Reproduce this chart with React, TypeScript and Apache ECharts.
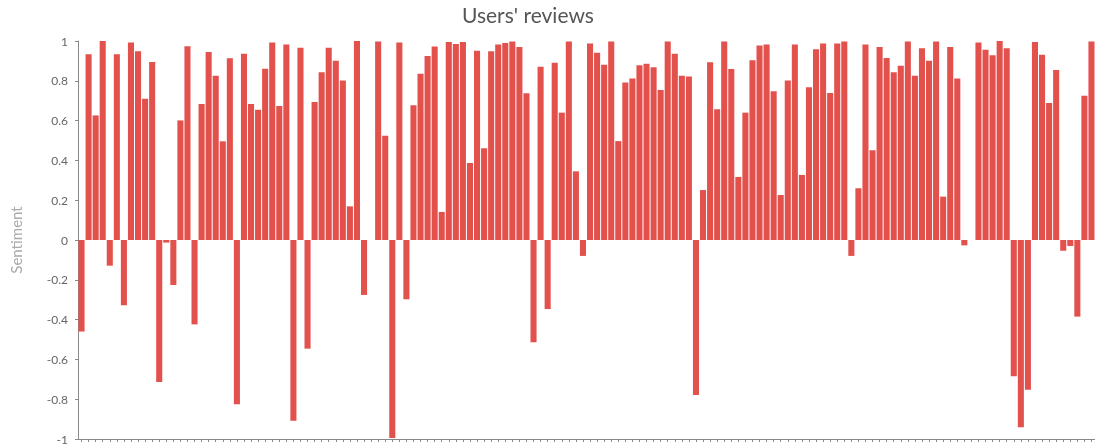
import React, { useEffect, useRef } from "react";
import * as echarts from "echarts";

const title = "Users' reviews";
const yAxisName = "Sentiment";
const yTicks = { min: -1, max: 1, interval: 0.2 };

// Sentiment score of each review (null = no score)
const sentiment: (number | null)[] = [
  -0.46, 0.933, 0.626, 1.0, -0.129, 0.933, -0.328, 0.992, 0.948, 0.71,
  0.894, -0.714, -0.013, -0.226, 0.601, 0.973, -0.424, 0.683, 0.945, 0.826,
  0.496, 0.913, -0.826, 0.936, 0.683, 0.655, 0.861, 0.993, 0.673, 0.983,
  -0.908, 0.966, -0.546, 0.693, 0.843, 0.966, 0.901, 0.801, 0.169, 1.0,
  -0.276, null, 0.998, 0.524, -0.995, 0.992, -0.298, 0.677, 0.836, 0.925,
  0.972, 0.141, 0.995, 0.985, 0.995, 0.387, 0.951, 0.461, 0.948, 0.983,
  0.99, 0.997, 0.97, 0.737, -0.514, 0.871, -0.347, 0.891, 0.64, 0.997,
  0.345, -0.08, 0.988, 0.941, 0.881, 0.997, 0.497, 0.791, 0.812, 0.878,
  0.886, 0.868, 0.754, 0.998, 0.936, 0.826, 0.822, -0.779, 0.251, 0.893,
  0.657, 0.997, 0.859, 0.317, 0.64, 0.903, 0.978, 0.982, 0.747, 0.226,
  0.802, 0.983, 0.327, 0.767, 0.958, 0.988, 0.739, 0.988, 0.997, -0.08,
  0.26, 0.982, 0.451, 0.97, 0.915, 0.843, 0.876, 0.998, 0.826, 0.963,
  0.901, 0.998, 0.218, 0.97, 0.812, -0.027, null, 0.993, 0.956, 0.928,
  1.0, 0.963, -0.685, -0.941, -0.752, 0.995, 0.931, 0.688, 0.854, -0.054,
  -0.03, -0.385, 0.725, 0.998,
];

const reviews: string[] = sentiment.map((_, i) => `Review ${i + 1}`);

export default function App() {
  const ref = useRef<HTMLDivElement>(null);
  useEffect(() => {
    if (!ref.current) return;
    const chart = echarts.init(ref.current, undefined, { renderer: "svg" });
    chart.setOption({
      animation: false,
      title: {
        text: title,
        left: 457,
        top: -1,
        textStyle: {
          fontFamily: "Lato",
          fontSize: 21,
          fontWeight: "normal",
          color: "#555",
        },
      },
      grid: { left: 77, right: 0, top: 41, bottom: 5, containLabel: false },
      xAxis: {
        type: "category",
        data: reviews,
        axisLine: { onZero: false, lineStyle: { color: "#888" } },
        axisTick: {
          show: true,
          interval: 0,
          alignWithLabel: true,
          length: 3,
          lineStyle: { color: "#888" },
        },
        axisLabel: { show: true, interval: 0, formatter: () => "" },
        splitLine: { show: false },
      },
      yAxis: {
        type: "value",
        min: yTicks.min,
        max: yTicks.max,
        interval: yTicks.interval,
        name: yAxisName,
        nameLocation: "middle",
        nameGap: 55,
        nameTextStyle: { color: "#aaa", fontSize: 15, fontFamily: "Lato" },
        axisLine: { show: true, lineStyle: { color: "#888" } },
        axisTick: { show: true, length: 3, lineStyle: { color: "#888" } },
        axisLabel: { color: "#666", fontSize: 12, margin: 10, fontFamily: "Lato" },
        splitLine: { show: false },
      },
      series: [
        {
          type: "bar",
          data: sentiment.map((v) => (v === null ? "-" : v)),
          barCategoryGap: "14%",
          itemStyle: {
            color: "#e3514d",
          },
        },
      ],
    });
    return () => chart.dispose();
  }, []);
  return (
    <div
      ref={ref}
      style={{ position: "fixed", left: 0, top: 0, width: 1095, height: 447 }}
    />
  );
}
